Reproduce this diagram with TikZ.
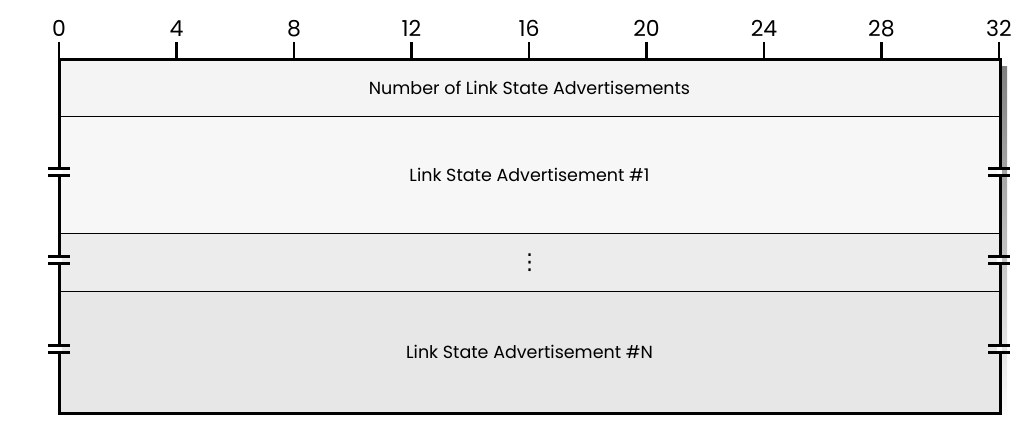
\documentclass[tikz,border=0pt]{standalone}
\usepackage{fontspec}
\setmainfont{Poppins}
\newfontfamily\symfont{DejaVu Sans}
\definecolor{rowA}{HTML}{F4F4F4}
\definecolor{rowB}{HTML}{F7F7F7}
\definecolor{rowC}{HTML}{ECECEC}
\definecolor{rowD}{HTML}{E7E7E7}
\definecolor{shade}{HTML}{CFCFCF}
\begin{document}
\begin{tikzpicture}[x=1pt,y=-1pt,
  field/.style={draw=black, line width=1pt, anchor=north west, inner sep=0pt,
    minimum width=940pt, font=\fontsize{17.5}{20}\selectfont},
  frame/.style={line width=3pt, line cap=rect},
  brk/.style={line width=2.6pt},
  tick/.style={line width=2.5pt},
  bitlabel/.style={font=\fontsize{22}{25}\selectfont, anchor=base, inner sep=0pt}]
\useasboundingbox (0,0) rectangle (1026,434);
% drop shadow behind the packet body
\fill[shade] (66,66) rectangle (1007,420);
% fields
\node[field, fill=rowA, minimum height=57pt]  (nlsa) at (59,59)  {Number of Link State Advertisements};
\node[field, fill=rowB, minimum height=117pt] (lsa1) at (59,116) {\raisebox{-2pt}{Link State Advertisement \#1}};
\node[field, fill=rowC, minimum height=58pt]  (more) at (59,233) {\symfont\fontsize{22}{24}\selectfont ⋮};
\node[field, fill=rowD, minimum height=121pt] (lsaN) at (59,291) {Link State Advertisement \#N};
% outer frame
\draw[frame] (nlsa.north west) rectangle (lsaN.south east);
% bit ruler
\foreach \b [count=\i from 0] in {0,4,...,32} {
  \draw[tick] (59+\i*117.5,42) -- (59+\i*117.5,59);
  \node[bitlabel] at (59+\i*117.5,36) {\b};
}
% break marks on both sides of the variable-length fields
\foreach \y in {172,260,349} {
  \foreach \x in {59,999} {
    \fill[white] (\x-2.5,\y-3.4) rectangle (\x+2.5,\y+3.4);
    \draw[brk] (\x-11,\y-3.4) -- (\x+11,\y-3.4);
    \draw[brk] (\x-11,\y+3.4) -- (\x+11,\y+3.4);
  }
}
\end{tikzpicture}
\end{document}
